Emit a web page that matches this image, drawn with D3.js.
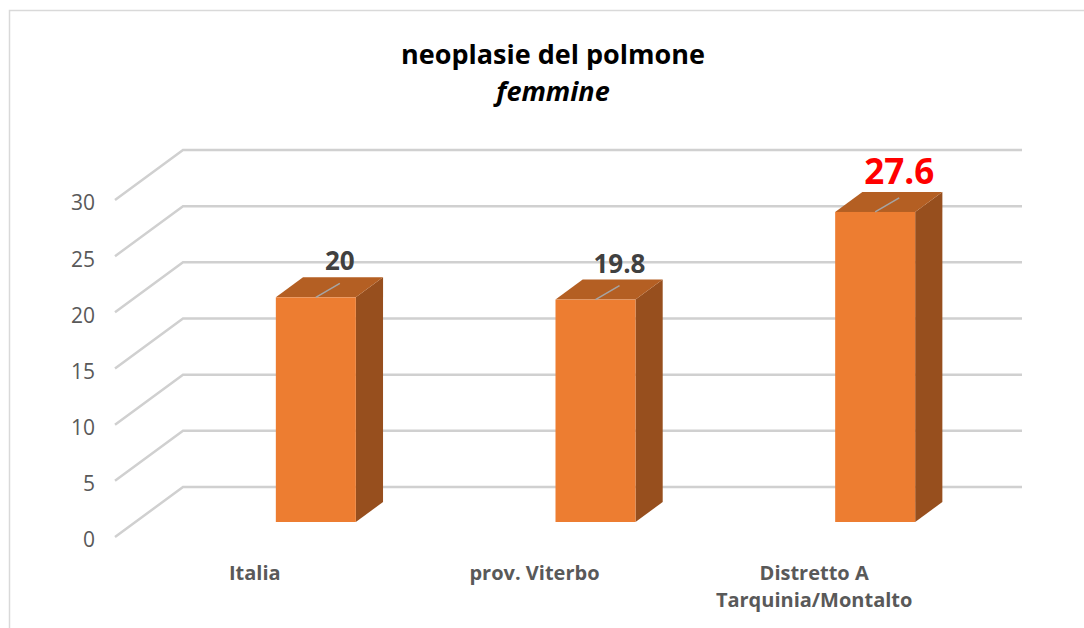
<!DOCTYPE html>
<html>
<head>
<meta charset="utf-8">
<script src="https://cdn.jsdelivr.net/npm/d3@7"></script>
<style>
  body { margin: 0; background: #fff; }
  text { font-family: "Open Sans", sans-serif; }
</style>
</head>
<body>
<div id="chart-area"></div>
<script>
// data
var categories = ["Italia", "prov. Viterbo", "Distretto A\nTarquinia/Montalto"];
var values = [20, 19.8, 27.6];
var ticks = [0, 5, 10, 15, 20, 25, 30];
var title = "neoplasie del polmone";
var subtitle = "femmine";

var width = 1084, height = 628;

var svg = d3.select("#chart-area").append("svg")
    .attr("width", width)
    .attr("height", height);

// border of the chart area
svg.append("rect")
    .attr("x", 9.5).attr("y", 10.5)
    .attr("width", 1100).attr("height", 700)
    .attr("fill", "none")
    .attr("stroke", "#d9d9d9")
    .attr("stroke-width", 1.5);

svg.append("text")
    .attr("x", 553).attr("y", 64)
    .attr("text-anchor", "middle")
    .attr("font-size", 27)
    .attr("font-weight", "bold")
    .attr("fill", "#000")
    .text(title);

svg.append("text")
    .attr("x", 553).attr("y", 101)
    .attr("text-anchor", "middle")
    .attr("font-size", 27)
    .attr("font-weight", "bold")
    .attr("font-style", "italic")
    .attr("fill", "#000")
    .text(subtitle);

// pseudo 3d geometry: front plane and depth offset
var floorY = 537;
var depthX = 68, depthY = -50;

var x = d3.scaleBand()
    .domain(categories)
    .range([115, 954]);

var y = d3.scaleLinear()
    .domain([0, 30])
    .range([floorY, 200]);

// gridlines: wall diagonal then back line
svg.append("g").selectAll("polyline")
    .data(ticks)
    .enter()
    .append("polyline")
    .attr("points", function(d) {
        var yy = y(d);
        return [[115, yy], [115 + depthX, yy + depthY], [954 + depthX, yy + depthY]].join(" ");
    })
    .attr("fill", "none")
    .attr("stroke", "#d0d0d0")
    .attr("stroke-width", 2.5);

svg.append("g").selectAll("text")
    .data(ticks)
    .enter()
    .append("text")
    .attr("x", 95)
    .attr("y", function(d) { return y(d) + 3; })
    .attr("dy", "0.35em")
    .attr("text-anchor", "end")
    .attr("font-size", 21)
    .attr("fill", "#595959")
    .text(function(d) { return d; });

// bars
var d0 = 0.3, d1 = 0.7;
var barW = 80;
function barLeft(c) { return x(c) + x.bandwidth() / 2 + 61 - barW / 2 - d0 * depthX; }

var bars = svg.append("g").selectAll("g")
    .data(categories)
    .enter()
    .append("g")
    .attr("transform", function(c) {
        return "translate(" + (d0 * depthX) + "," + (d0 * depthY) + ")";
    });

var sx = (d1 - d0) * depthX, sy = (d1 - d0) * depthY;

bars.append("polygon")
    .attr("points", function(c, i) {
        var l = barLeft(c), r = l + barW, t = y(values[i]), b = y(0);
        return [[r, b], [r + sx, b + sy], [r + sx, t + sy], [r, t]].join(" ");
    })
    .attr("fill", "#974f1e");

bars.append("polygon")
    .attr("points", function(c, i) {
        var l = barLeft(c), r = l + barW, t = y(values[i]);
        return [[l, t], [l + sx, t + sy], [r + sx, t + sy], [r, t]].join(" ");
    })
    .attr("fill", "#b45f23");

bars.append("rect")
    .attr("x", function(c) { return barLeft(c); })
    .attr("y", function(c, i) { return y(values[i]); })
    .attr("width", barW)
    .attr("height", function(c, i) { return y(0) - y(values[i]); })
    .attr("fill", "#ed7d31");

// leader lines and value labels
bars.append("line")
    .attr("x1", function(c) { return barLeft(c) + barW / 2; })
    .attr("y1", function(c, i) { return y(values[i]); })
    .attr("x2", function(c) { return barLeft(c) + barW / 2 + 24; })
    .attr("y2", function(c, i) { return y(values[i]) - 14; })
    .attr("stroke", "#a5a5a5")
    .attr("stroke-width", 1.5);

bars.append("text")
    .attr("x", function(c) { return barLeft(c) + barW / 2 + 24; })
    .attr("y", function(c, i) { return y(values[i]) - (i === 2 ? 28 : 27); })
    .attr("text-anchor", "middle")
    .attr("font-weight", "bold")
    .attr("font-size", function(c, i) { return i === 2 ? 35 : 26; })
    .attr("fill", function(c, i) { return i === 2 ? "#ff0000" : "#404040"; })
    .text(function(c, i) { return values[i]; });

// category labels
var cat = svg.append("g").selectAll("text")
    .data(categories)
    .enter()
    .append("text")
    .attr("x", function(c) { return x(c) + x.bandwidth() / 2; })
    .attr("y", 580)
    .attr("text-anchor", "middle")
    .attr("font-weight", "bold")
    .attr("font-size", 20)
    .attr("fill", "#595959");

cat.selectAll("tspan")
    .data(function(c) { return c.split("\n"); })
    .enter()
    .append("tspan")
    .attr("x", function() { return d3.select(this.parentNode).attr("x"); })
    .attr("dy", function(t, i) { return i === 0 ? 0 : 27; })
    .text(function(t) { return t; });
</script>
</body>
</html>
